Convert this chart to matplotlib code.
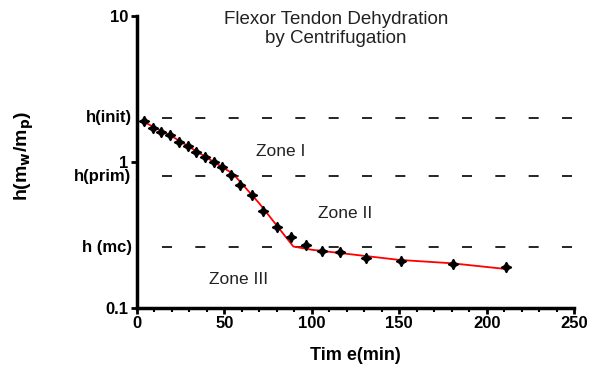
import matplotlib
matplotlib.use('Agg')
import matplotlib.pyplot as plt
from matplotlib.ticker import FixedLocator, NullLocator

# measured hydration ratio vs centrifugation time
time_min = [4, 9, 14, 19, 24, 29, 34, 39, 44, 49, 54, 59, 66, 72, 80, 88,
            97, 106, 116, 131, 151, 181, 211]
h_ratio = [1.90, 1.71, 1.60, 1.54, 1.37, 1.28, 1.17, 1.08, 1.00, 0.92, 0.81,
           0.69, 0.59, 0.46, 0.358, 0.305, 0.269, 0.245, 0.241, 0.220, 0.209,
           0.200, 0.191]

# model curve
fit_t = [4, 20, 40, 55, 70, 89.5, 100, 150, 180, 210]
fit_h = [1.88, 1.50, 1.07, 0.83, 0.52, 0.263, 0.250, 0.213, 0.202, 0.185]

# characteristic hydration levels
levels = [2.0, 0.80, 0.26]
level_names = ['h(init)', 'h(prim)', 'h (mc)']

zones = ['Zone I', 'Zone II', 'Zone III']
zone_t = [82, 119, 58]
zone_h = [1.17, 0.44, 0.156]

plt.rcParams['font.family'] = ['Liberation Sans', 'DejaVu Sans']

fig = plt.figure(figsize=(5.92, 3.70), dpi=100)
ax = fig.add_axes([0.231, 0.168, 0.739, 0.789])

ax.set_yscale('log')
ax.set_xlim(0, 250)
ax.set_ylim(0.1, 10)

for lv in levels:
    ax.hlines(lv, 14.5, 250, colors='black', linewidth=1.2,
              linestyles=(0, (6, 14)))

ax.plot(fit_t, fit_h, color='red', linewidth=1.3, zorder=3)
ax.plot(time_min, h_ratio, linestyle='none', marker=(4, 1, 0),
        markersize=7.5, color='black', zorder=4)

ax.text(114, 8.1, 'Flexor Tendon Dehydration\nby Centrifugation',
        ha='center', va='center', fontsize=13.5, linespacing=1.15,
        color='#222222')
for name, t, h in zip(zones, zone_t, zone_h):
    ax.text(t, h, name, ha='center', va='center', fontsize=12.5,
            color='#222222')

# level names next to the y axis
for name, lv in zip(level_names, levels):
    ax.text(-3, lv, name, ha='right', va='center',
            fontsize=12, fontweight='bold')

ax.spines['top'].set_visible(False)
ax.spines['right'].set_visible(False)
ax.spines['left'].set_linewidth(2.5)
ax.spines['bottom'].set_linewidth(2.5)

ax.yaxis.set_major_locator(FixedLocator([0.1, 1, 10]))
ax.yaxis.set_minor_locator(NullLocator())
ax.set_yticklabels(['0.1', '1', '10'])
ax.set_xticks([0, 50, 100, 150, 200, 250])
ax.set_xticks(range(0, 251, 10), minor=True)
ax.tick_params(axis='both', which='major', length=4, width=2,
               labelsize=12, pad=2)
ax.tick_params(axis='x', which='minor', length=3, width=1.5)
for lab in ax.get_xticklabels() + ax.get_yticklabels():
    lab.set_fontweight('bold')

ax.set_xlabel('Tim e(min)', fontsize=13, fontweight='bold')
ax.xaxis.set_label_coords(0.5, -0.135)
ax.set_ylabel(r'h(m$_\mathbf{w}$/m$_\mathbf{p}$)', fontsize=14,
              fontweight='bold')
ax.yaxis.set_label_coords(-0.23, 0.52)

fig.savefig('out.png', dpi=100)
